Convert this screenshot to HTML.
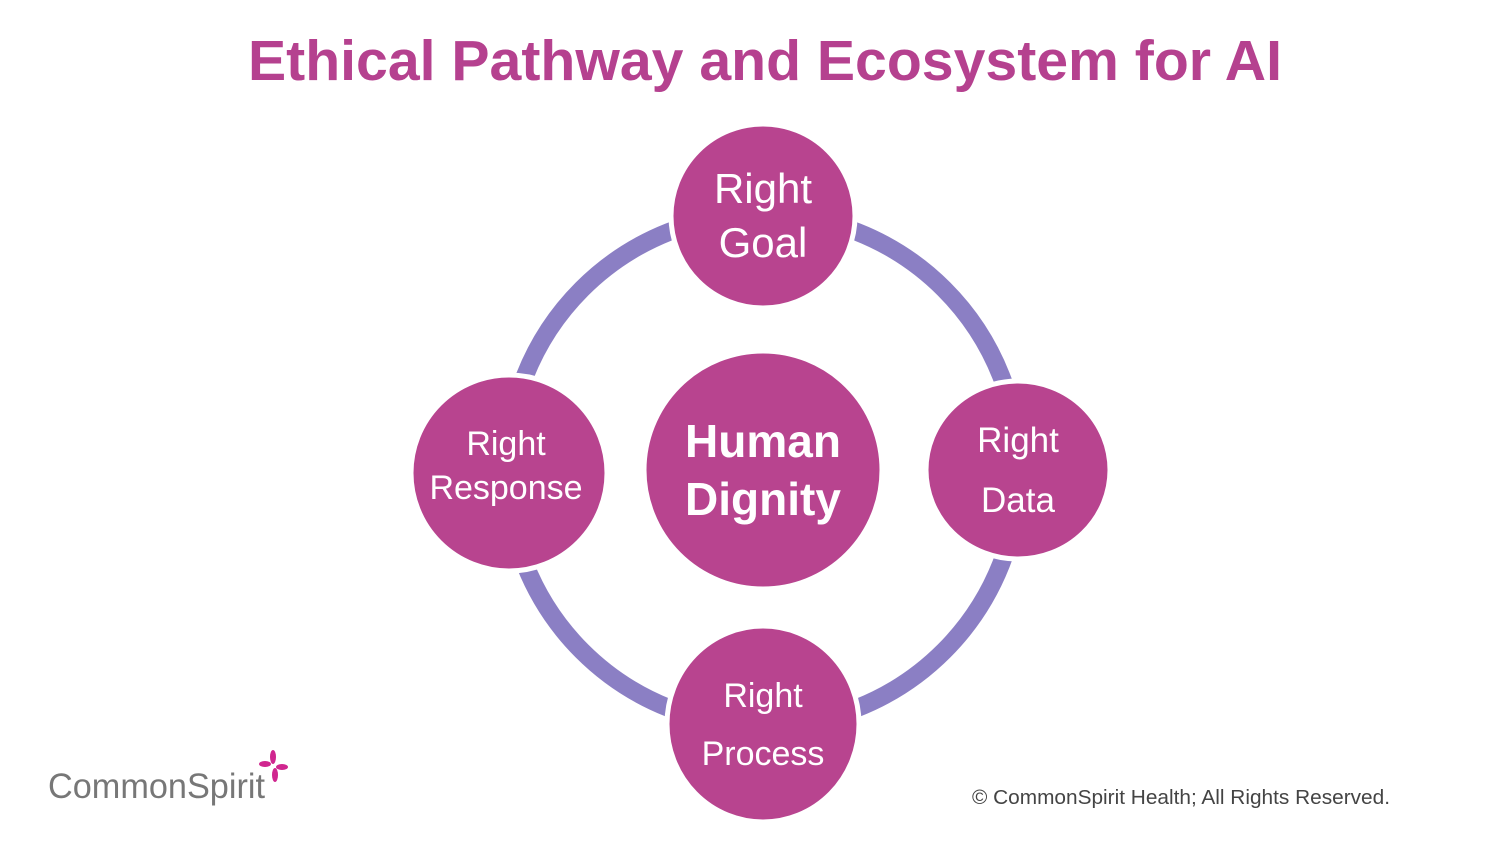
<!DOCTYPE html>
<html><head><meta charset="utf-8"><style>
body{margin:0;width:1500px;height:844px;background:#fff;overflow:hidden;font-family:"Liberation Sans",sans-serif}
</style></head><body>
<svg width="1500" height="844" viewBox="0 0 1500 844" xmlns="http://www.w3.org/2000/svg">
<text x="765" y="80" text-anchor="middle" font-family="Liberation Sans, sans-serif" font-weight="bold" font-size="57" fill="#b5418f" textLength="1034" lengthAdjust="spacingAndGlyphs">Ethical Pathway and Ecosystem for AI</text>
<circle cx="763" cy="470" r="256" fill="none" stroke="#8b7fc4" stroke-width="18"/>
<g fill="#b8448f" stroke="#fff" stroke-width="5">
<circle cx="763" cy="216" r="92"/>
<ellipse cx="1018" cy="470" rx="92" ry="89"/>
<ellipse cx="509" cy="473" rx="98" ry="98"/>
<ellipse cx="763" cy="724" rx="96" ry="98"/>
<circle cx="763" cy="470" r="119"/>
</g>
<g fill="#fff" text-anchor="middle" font-family="Liberation Sans, sans-serif">
<text x="763" y="203" font-size="42">Right</text>
<text x="763" y="257" font-size="42">Goal</text>
<text x="763" y="457" font-size="46" font-weight="bold">Human</text>
<text x="763" y="515" font-size="46" font-weight="bold">Dignity</text>
<text x="1018" y="452" font-size="35">Right</text>
<text x="1018" y="512" font-size="35">Data</text>
<text x="506" y="455" font-size="34">Right</text>
<text x="506" y="499" font-size="34">Response</text>
<text x="763" y="707" font-size="34">Right</text>
<text x="763" y="765" font-size="34">Process</text>
</g>
<text x="972" y="804" font-size="20" fill="#444" textLength="418" lengthAdjust="spacingAndGlyphs">© CommonSpirit Health; All Rights Reserved.</text>
<text x="48" y="798" font-size="35" fill="#777" textLength="217" lengthAdjust="spacingAndGlyphs">CommonSpirit</text>
<g fill="#d0268f">
<ellipse cx="273" cy="757" rx="3" ry="7"/>
<ellipse cx="265" cy="764" rx="6" ry="3"/>
<ellipse cx="282" cy="767" rx="6" ry="3"/>
<ellipse cx="275" cy="775" rx="3" ry="7"/>
</g>
</svg>
</body></html>
